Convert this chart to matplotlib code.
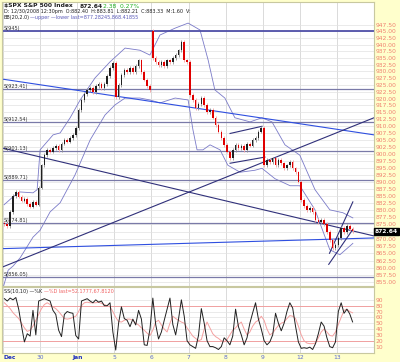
import matplotlib
matplotlib.use('Agg')
import matplotlib.pyplot as plt
import numpy as np

# ---------------- data ----------------
day_labels = ['Dec', '30', 'Jan', '5', '6', '7', '8', '9', '12', '13']
bars_per_day = 13
open_first = 875.5
# bars that open away from the previous close (bar index -> open price)
gap_opens = {52: 945.2}
close = [
    875.2, 874.5, 879.4, 885.0, 886.4, 884.7, 883.3, 884.0, 882.2, 881.2, 882.9, 881.9, 887.9,
    895.9, 899.5, 901.4, 900.7, 902.1, 902.9, 901.4, 903.6, 905.0, 904.3, 905.7, 906.8, 909.3,
    915.8, 919.5, 921.7, 923.2, 923.9, 922.4, 924.6, 925.4, 923.9, 925.4, 928.3, 931.3, 933.1,
    920.6, 925.0, 928.7, 930.5, 929.8, 931.3, 929.8, 932.0, 934.2, 929.8, 926.9, 924.6, 923.2,
    935.0, 933.5, 932.4, 933.5, 932.0, 934.2, 933.5, 935.0, 936.1, 937.9, 941.0, 934.2, 933.5,
    921.3, 919.5, 916.6, 918.0, 920.2, 917.7, 915.1, 915.8, 913.0, 910.4, 907.9, 905.7, 903.2,
    900.7, 898.4, 901.4, 903.2, 902.1, 902.9, 901.4, 903.6, 902.9, 905.0, 905.7, 907.9, 909.3,
    895.9, 897.7, 897.0, 898.4, 895.9, 897.7, 896.6, 894.8, 895.9, 897.0, 894.8, 893.4, 890.1,
    883.6, 881.5, 880.1, 880.8, 879.4, 876.6, 875.9, 876.6, 875.2, 872.4, 869.6, 866.9, 867.9,
    870.3, 873.8, 872.4, 874.5, 873.4, 872.64,
]
stoch_k = [
    92, 88, 93, 90, 94, 74, 45, 18, 32, 28, 72, 30, 88,
    90, 92, 90, 88, 72, 65, 38, 27, 65, 70, 68, 67, 29,
    23, 88, 90, 92, 88, 85, 90, 86, 88, 80, 80, 85, 35,
    4, 50, 78, 58, 55, 44, 57, 47, 72, 57, 13, 12, 40,
    93, 48, 23, 35, 55, 74, 93, 48, 30, 57, 90, 62, 20,
    13, 10, 7, 29, 75, 50, 20, 10, 10, 8, 5, 10, 25,
    20, 13, 28, 74, 44, 30, 13, 25, 50, 68, 85, 57, 40,
    20, 13, 18, 30, 67, 50, 37, 50, 70, 85, 76, 45, 18,
    7, 8, 7, 9, 5, 15, 32, 52, 45, 25, 10, 8, 18,
    70, 85, 67, 74, 66, 52.18,
]
stoch_d = [
    85, 80, 75, 68, 63, 58, 50, 42, 36, 38, 45, 55, 65,
    75, 82, 85, 82, 78, 75, 70, 64, 58, 57, 58, 60, 62,
    70, 80, 85, 86, 85, 85, 85, 86, 84, 82, 80, 78, 70,
    60, 53, 52, 55, 57, 57, 55, 50, 47, 42, 38, 33, 29,
    38, 52, 55, 47, 40, 35, 50, 62, 58, 55, 52, 50, 42,
    35, 28, 24, 20, 22, 40, 52, 42, 32, 27, 24, 20, 18,
    22, 30, 38, 42, 48, 52, 40, 30, 35, 45, 52, 55, 62,
    55, 40, 30, 33, 40, 46, 50, 52, 58, 63, 62, 58, 45,
    30, 20, 16, 15, 15, 16, 25, 35, 40, 35, 29, 28, 35,
    48, 60, 72, 74, 70, 67.81,
]
bb_upper_day = [0.03, 0.27, 0.46, 0.81, 0.92, 1.0, 1.35, 1.54, 1.81, 2.08, 2.48, 2.88, 3.29,
                3.69, 3.96, 4.23, 4.64, 4.99, 5.31, 5.53, 5.71, 5.98, 6.25, 6.66, 6.98, 7.25,
                7.6, 8.0, 8.41, 8.81, 9.16, 9.43]
bb_upper = [881.9, 884.7, 886.4, 886.1, 887.2, 901.4, 906.8, 907.5, 913.0, 919.5, 927.6, 933.5, 938.7,
            937.9, 936.1, 943.6, 946.2, 948.1, 945.5, 934.2, 923.2, 920.2, 913.0, 911.5, 913.0, 911.5,
            903.2, 899.5, 887.2, 880.1, 879.1, 877.28]
bb_lower_day = [0.0, 0.14, 0.27, 0.46, 0.81, 1.0, 1.27, 1.54, 1.94, 2.35, 2.75, 3.02, 3.29,
                3.69, 3.96, 4.23, 4.64, 4.99, 5.12, 5.23, 5.39, 5.58, 5.85, 6.06, 6.39, 6.79,
                6.98, 7.33, 7.74, 8.0, 8.41, 8.81, 9.08, 9.43]
bb_lower = [853.1, 859.2, 860.6, 863.4, 870.6, 873.0, 879.4, 882.6, 892.4, 905.0, 914.0, 917.7, 920.2,
            920.2, 919.5, 918.4, 920.2, 919.5, 908.6, 901.4, 901.4, 903.2, 901.4, 895.9, 893.4, 894.1,
            894.8, 891.1, 888.6, 888.6, 880.1, 866.2, 864.5, 868.42]
support_levels = [945.0, 923.4, 911.5, 901.0, 890.5, 875.5, 857.0]
support_names = ['S(945)', 'S(923.41)', 'S(912.54)', 'S(901.13)', 'S(889.71)', 'S(874.81)', 'S(856.05)']
# trend lines: (day0, price0, day1, price1, colour)
trend_lines = [
    (-0.03, 927.2, 10.0, 906.8, '#2f4fe0'),
    (-0.03, 902.1, 10.0, 871.0, '#30307a'),
    (-0.03, 866.6, 10.0, 870.3, '#2f4fe0'),
    (-0.03, 860.2, 10.0, 913.0, '#30307a'),
    (6.12, 907.3, 6.98, 909.9, '#30307a'),
    (6.12, 896.6, 7.06, 898.8, '#30307a'),
    (8.80, 865.0, 9.43, 882.9, '#30307a'),
    (8.78, 861.2, 9.43, 873.3, '#30307a'),
]
price_ticks = [855.0, 857.5, 860.0, 862.5, 865.0, 867.5, 870.0, 872.5, 875.0, 877.5, 880.0,
               882.5, 885.0, 887.5, 890.0, 892.5, 895.0, 897.5, 900.0, 902.5, 905.0, 907.5,
               910.0, 912.5, 915.0, 917.5, 920.0, 922.5, 925.0, 927.5, 930.0, 932.5, 935.0,
               937.5, 940.0, 942.5, 945.0, 947.5]
stoch_ticks = [10, 20, 30, 40, 50, 60, 70, 80, 90]
last_price = 872.64

# ---------------- figure ----------------
W, H = 400, 362
fig = plt.figure(figsize=(W / 100, H / 100), dpi=100)
fig.patch.set_facecolor('#ffffcc')
plt.rcParams['font.family'] = ['DejaVu Sans']

def fx(px):
    return px / W

def fy(py):
    return 1 - py / H

ax = fig.add_axes([fx(2), fy(286), fx(374) - fx(2), fy(2) - fy(286)])
ax2 = fig.add_axes([fx(2), fy(353), fx(374) - fx(2), fy(287) - fy(353)])

XMIN, XMAX = -0.027, 10.0
for a in (ax, ax2):
    a.set_facecolor('white')
    a.set_xlim(XMIN, XMAX)
    for s in a.spines.values():
        s.set_color('#c8c8a0')
        s.set_linewidth(0.8)
    for d in range(len(day_labels)):
        a.axvline(d, color='#d4d4d4', lw=0.6, zorder=0)

ax.set_yscale('log')
ax.set_ylim(853.8, 956.1)
ax.yaxis.tick_right()
ax.set_yticks(price_ticks)
ax.set_yticklabels(['' if abs(t - last_price) < 1.5 else '%.2f' % t for t in price_ticks])
ax.yaxis.set_minor_locator(matplotlib.ticker.NullLocator())
ax.tick_params(axis='y', which='both', length=0, pad=1, labelsize=4.3, labelcolor='#f08070')
ax.set_xticks([])
for t in price_ticks:
    ax.axhline(t, color='#e2e2e2', lw=0.5, zorder=0)

n = len(close)
xs = (np.arange(n) + 0.5) / bars_per_day
opens = [open_first] + close[:-1]
for i, o in gap_opens.items():
    opens[i] = o
for x, o, c in zip(xs, opens, close):
    col = '#e00000' if c < o else '#202020'
    lo, hi = min(o, c), max(o, c)
    ax.vlines(x, lo - 0.6, hi + 0.6, color='#f5a0a0' if c < o else '#909090', lw=0.6, zorder=3)
    ax.bar(x, max(hi - lo, 0.3), bottom=lo, width=0.55 / bars_per_day, color=col,
           lw=0, zorder=4)

ax.plot(bb_upper_day, bb_upper, color='#7a7ac8', lw=0.6, zorder=2)
ax.plot(bb_lower_day, bb_lower, color='#7a7ac8', lw=0.6, zorder=2)

for lvl, name in zip(support_levels, support_names):
    lw = 1.3 if lvl == 945.0 else 0.9
    col = '#5050a8' if lvl == 945.0 else '#7a7aa8'
    ax.axhline(lvl, color=col, lw=lw, zorder=2)
    ax.text(0.01, lvl, name, fontsize=3.6, color='#303030', va='bottom', ha='left', zorder=6)

for d0, p0, d1, p1, col in trend_lines:
    ax.plot([d0, d1], [p0, p1], color=col, lw=0.8, zorder=2)

# last price box
ax.text(1.003, last_price, '%.2f' % last_price, transform=ax.get_yaxis_transform(),
        fontsize=4.3, color='white', fontweight='bold', va='center', ha='left',
        bbox=dict(boxstyle='square,pad=0.15', fc='black', ec='black'), zorder=10, clip_on=False)

# header texts
fig.text(fx(4), fy(6), '$SPX S&P 500 Index', fontsize=4.3, fontweight='bold', color='#202020', va='center')
fig.text(fx(80), fy(6), '872.64', fontsize=4.3, fontweight='bold', color='#202020', va='center')
fig.text(fx(103), fy(6), '2.38  0.27%', fontsize=4.3, color='#20b020', va='center')
fig.text(fx(4), fy(12), 'D: 12/30/2008 12:30pm  O:882.40  H:883.81  L:882.21  C:883.33  M:1.60  V:',
         fontsize=3.5, color='#202020', va='center')
fig.text(fx(4), fy(17.5), 'BB(20,2.0)', fontsize=3.5, color='#202020', va='center')
fig.text(fx(30), fy(17.5), '\u2014upper \u2014lower last=877.28245,868.41855', fontsize=3.5,
         color='#5a5ab8', va='center')

# stochastic panel
ax2.set_ylim(-1, 112)
ax2.yaxis.tick_right()
ax2.set_yticks(stoch_ticks)
ax2.set_yticklabels([str(t) for t in stoch_ticks])
ax2.tick_params(axis='y', length=0, pad=1, labelsize=4.3, labelcolor='#f08070')
for t in stoch_ticks:
    if t in (20, 80):
        ax2.axhline(t, color='#f0a0a0', lw=0.7, zorder=1)
    else:
        ax2.axhline(t, color='#e2e2e2', lw=0.5, zorder=0)
ax2.plot(xs, stoch_d, color='#f4a0a0', lw=0.7, zorder=3)
ax2.plot(xs, stoch_k, color='#202020', lw=0.7, zorder=4)
ax2.text(0.02, 104, 'SS(10,10) \u2014%K', fontsize=3.5, color='#202020', va='center')
ax2.text(1.1, 104, '\u2014%D last=52.1777,67.8120', fontsize=3.5, color='#f06060', va='center')

ax2.set_xticks(range(len(day_labels)))
ax2.set_xticklabels(day_labels)
ax2.tick_params(axis='x', length=0, pad=1.5, labelsize=4.3, labelcolor='#5a6ad0')
for lab in ax2.get_xticklabels():
    if lab.get_text() in ('Dec', 'Jan'):
        lab.set_fontweight('bold')
        lab.set_color('#2030c0')
    if lab.get_text() == 'Dec':
        lab.set_horizontalalignment('left')

fig.savefig('out.png', dpi=100, facecolor=fig.get_facecolor())
